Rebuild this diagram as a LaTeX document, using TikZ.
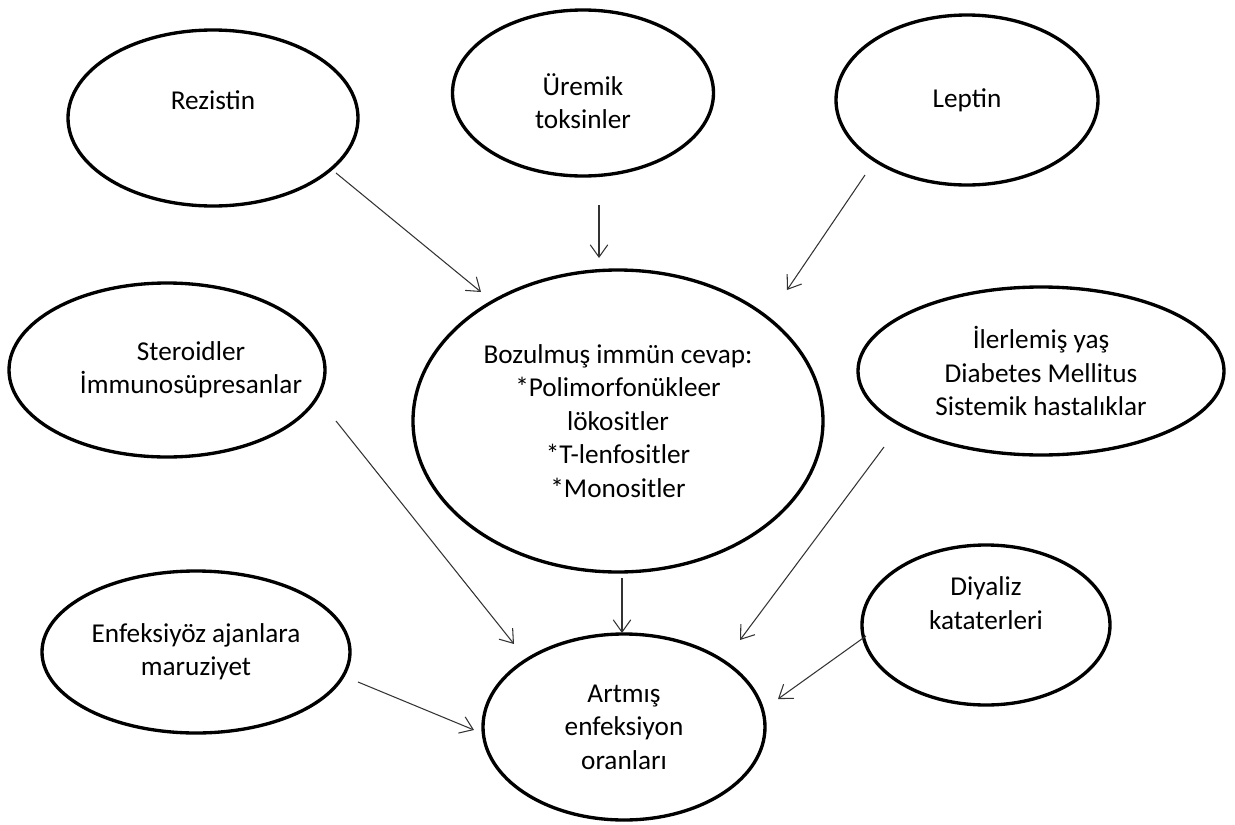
\documentclass[tikz,border=0pt]{standalone}
\usepackage{fontspec}
\setmainfont{Carlito}
\usetikzlibrary{shapes.geometric,arrows.meta}
\def\px{0.02cm}
\tikzset{
    txt/.style={align=center, font=\fontsize{15.5}{19}\selectfont},
    oval/.style 2 args={ellipse, draw, line width=1.9pt, inner sep=0pt, txt,
        minimum width=#1*\px, minimum height=#2*\px},
    arr/.style={-{Straight Barb[length=7pt,width=10pt]}, line width=0.6pt, draw=black!80}
}
\begin{document}
\begin{tikzpicture}[x=0.02cm, y=-0.02cm]
    \useasboundingbox (0,0) rectangle (1235,825);
    % causes
	\node[oval={290}{176}, label={[txt, yshift=18*\px]center:Rezistin}] (rez) at (213,118) {};
	\node[oval={261}{166}, label={[txt, yshift=-8*\px]center:Üremik\\toksinler}] (ure) at (583,93) {};
	\node[oval={262}{170}] (lep) at (967,100) {Leptin};
	\node[oval={316}{174}, label={[txt, xshift=24*\px]center:Steroidler\\İmmunosüpresanlar}] (ste) at (167,370) {};
	\node[oval={410}{302}] (boz) at (618,421)
	    {Bozulmuş immün cevap:\\*Polimorfonükleer\\lökositler\\*T-lenfositler\\*Monositler};
	\node[oval={366}{168}] (ile) at (1041,371)
	    {İlerlemiş yaş\\Diabetes Mellitus\\Sistemik hastalıklar};
	\node[oval={308}{162}] (enf) at (196,652) {Enfeksiyöz ajanlara\\maruziyet};
	\node[oval={248}{160}, label={[txt, yshift=22*\px]center:Diyaliz\\kataterleri}] (diy) at (986,625) {};
	\node[oval={282}{186}] (art) at (624,727) {Artmış\\enfeksiyon\\oranları};
    % arrow ends
	\coordinate (rez-s) at (336,173); \coordinate (rez-e) at (481,292);
	\coordinate (ure-s) at (599,205); \coordinate (ure-e) at (599,258);
	\coordinate (lep-s) at (865,175); \coordinate (lep-e) at (787,290);
	\coordinate (ste-s) at (336,421); \coordinate (ste-e) at (514,644);
	\coordinate (boz-s) at (622,578); \coordinate (boz-e) at (622,633);
	\coordinate (ile-s) at (884,447); \coordinate (ile-e) at (740,640);
	\coordinate (enf-s) at (358,682); \coordinate (enf-e) at (474,730);
	\coordinate (diy-s) at (866,636); \coordinate (diy-e) at (778,699);
	\foreach \n in {rez,ure,lep,ste,boz,ile,enf,diy}
	    \draw[arr] (\n-s) -- (\n-e);
\end{tikzpicture}
\end{document}
